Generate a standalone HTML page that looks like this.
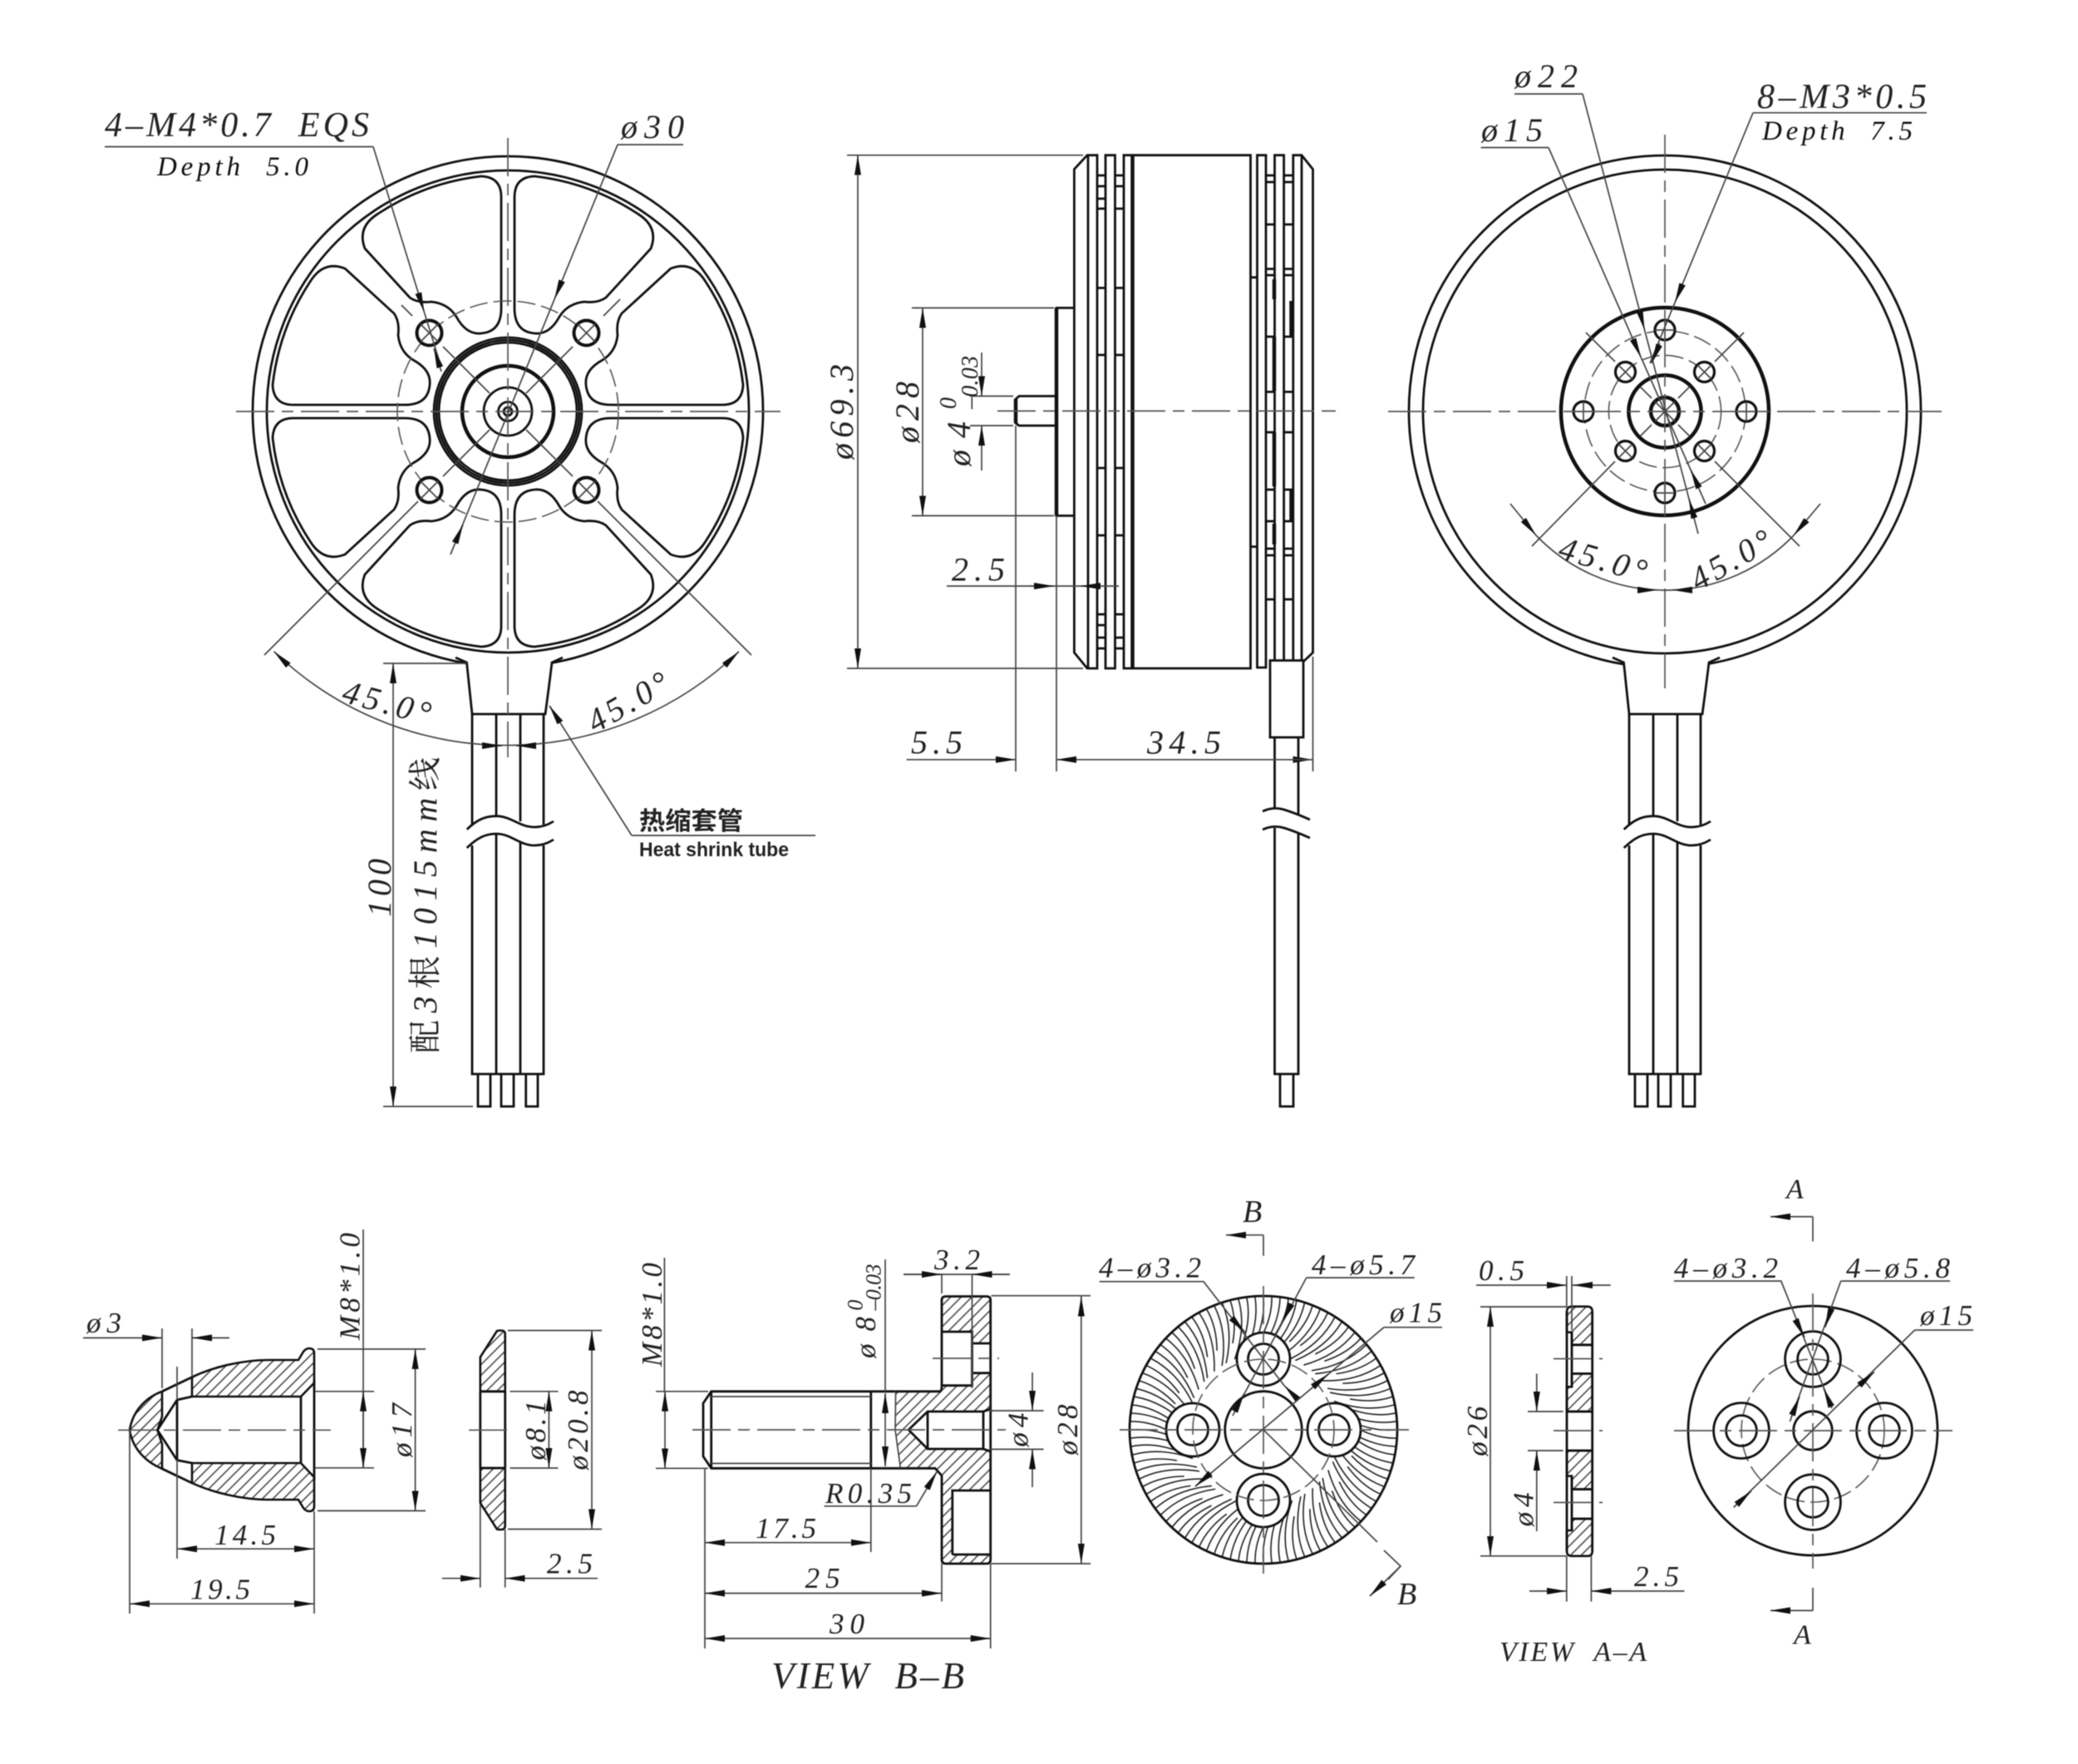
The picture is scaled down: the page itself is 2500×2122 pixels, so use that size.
<!DOCTYPE html>
<html><head><meta charset="utf-8"><title>Motor drawing</title>
<style>
html,body{margin:0;padding:0;background:#fff}
svg{display:block;filter:blur(0.5px)}
.m{fill:none;stroke:#111;stroke-width:2.8}
.k{fill:none;stroke:#111;stroke-width:4.5}
.w{fill:#fff;stroke:#111;stroke-width:2.8}
.d{fill:none;stroke:#444;stroke-width:1.7}
.c{fill:none;stroke:#555;stroke-width:1.7;stroke-dasharray:46 9 14 9}
.q{fill:none;stroke:#555;stroke-width:1.6;stroke-dasharray:22 7}
.e{marker-end:url(#a)}
.b{marker-start:url(#a);marker-end:url(#a)}
.h{fill:url(#h);stroke:#111;stroke-width:2.6}
text{font-family:"Liberation Serif","Noto Serif CJK SC",serif;font-style:italic;fill:#222;font-size:40px;white-space:pre}
.f{font-size:35px}
.n{font-family:"Liberation Sans","Noto Sans CJK SC",sans-serif;font-style:normal;font-weight:bold;fill:#222}
</style></head><body>
<svg xmlns="http://www.w3.org/2000/svg" width="2500" height="2122" viewBox="0 0 2500 2122">
<defs>
<marker id="a" markerWidth="26" markerHeight="10" refX="24" refY="5" orient="auto-start-reverse" markerUnits="userSpaceOnUse"><path d="M0 1 L24 5 L0 9 Z" fill="#111"/></marker>
<pattern id="h" width="9" height="9" patternUnits="userSpaceOnUse" patternTransform="rotate(45)"><path d="M4 0V9" stroke="#333" stroke-width="1.4"/></pattern>
<path id="win" d="M8 -124 V-258 Q8 -282 32 -283 A285 285 0 0 1 156 -238 Q182 -222 172 -196 L118 -137 Q108 -130 92 -132 Q72 -130 62 -114 Q50 -92 32 -94 Q8 -96 8 -124 Z" class="m"/>
<g id="wires">
<path class="w" d="M548 791 L561.5 797 Q565 830 568 859 H656 Q660 830 664 797 L677 791"/>
<path class="m" d="M568 859 V993 M597 859 V981 M626 859 V988 M654 859 V992 M568 1017 V1292 H654 V1017 M597 1003 V1292 M626 1012 V1292"/>
<path class="m" d="M575 1292 V1331 H590 V1292 M603 1292 V1331 H618 V1292 M632.7 1292 V1331 H647 V1292"/>
<path class="m" d="M561.7 997.7 C575 985 585 981.7 597 981.7 C615 981.7 625 995 643 995 Q655 995 666 988 M561.7 1020 C575 1007 585 1003 597 1003 C615 1003 625 1017 643 1017 Q655 1017 666 1010" stroke-width="2.2"/>
</g>
<g id="holeX"><circle r="15" fill="#fff" stroke="#111" stroke-width="4"/><path class="d" d="M-11 -11 L11 11 M-11 11 L11 -11"/></g>
<g id="h3"><circle r="12" fill="#fff" stroke="#111" stroke-width="3.2"/><path class="d" d="M-12 0 H12 M0 -12 V12"/></g>
<g id="s5">
<path id="sa" d="M0 -160 Q3 -125 -18 -90" fill="none" stroke="#222" stroke-width="1.6"/>
<path id="sb" d="M0 -160 Q2 -136 -10 -110" fill="none" stroke="#222" stroke-width="1.6" transform="rotate(3.6)"/>
<use href="#sa" transform="rotate(7.2)"/>
<use href="#sb" transform="rotate(7.2)"/>
<use href="#sa" transform="rotate(14.4)"/>
</g>
<g id="s25"><use href="#s5"/><use href="#s5" transform="rotate(18)"/><use href="#s5" transform="rotate(36)"/><use href="#s5" transform="rotate(54)"/><use href="#s5" transform="rotate(72)"/></g>
</defs>
<rect width="2500" height="2122" fill="#fff"/>

<!-- VIEW 1 -->
<g transform="translate(611 495)">
<circle class="m" r="307" stroke-width="3.4"/>
<circle class="m" r="290" stroke-width="3"/>
<use href="#win"/><use href="#win" transform="scale(-1 1)"/><use href="#win" transform="scale(1 -1)"/><use href="#win" transform="scale(-1 -1)"/>
<use href="#win" transform="matrix(0 -1 -1 0 0 0)"/><use href="#win" transform="matrix(0 1 -1 0 0 0)"/><use href="#win" transform="matrix(0 -1 1 0 0 0)"/><use href="#win" transform="matrix(0 1 1 0 0 0)"/>
<circle class="q" r="133"/>
<circle class="m" r="89"/><circle class="m" r="86"/><circle class="m" r="83"/>
<circle class="k" r="55" stroke-width="5"/>
<circle class="m" r="29" stroke-width="3.4"/>
<circle class="m" r="11.5"/><circle class="m" r="5" stroke-width="2"/>
<path class="d" d="M-78 -78 L-22 -22 M78 -78 L22 -22 M-78 78 L-22 22 M78 78 L22 22 M-115 -115 L-128 -128 M115 -115 L135 -135"/>
<use href="#holeX" transform="translate(-94.5 -94.5)"/><use href="#holeX" transform="translate(94.5 -94.5)"/><use href="#holeX" transform="translate(-94.5 94.5)"/><use href="#holeX" transform="translate(94.5 94.5)"/>
<path class="d" d="M-108 108 L-293 293 M108 108 L293 293"/>
</g>
<use href="#wires"/>
<path class="c" d="M284 495 H939"/>
<path class="c" d="M611 166 V911"/>
<path class="d b" d="M329.6 783.7 A403 403 0 0 0 889 783.7"/>
<path class="d e" d="M580 897 H604"/><path class="d e" d="M645 897 H621"/>
<path class="d" d="M126 176.5 H449"/>
<path class="d e" d="M449 176.5 L510.4 375.5"/><path class="d" d="M510.4 375.5 L527.7 431.6"/>
<path class="d e" d="M531 447 L522 419"/>
<path class="d" d="M743 174 H822"/><path class="d e" d="M743 174 L667 360"/><path class="d" d="M667 360 L542 667"/>
<path class="d e" d="M548 652 L557 631"/>
<text x="126" y="164" textLength="318" style="font-size:42px">4–M4*0.7  EQS</text>
<text x="189" y="211" textLength="182" style="font-size:33px;fill:#111">Depth  5.0</text>
<text x="747" y="166" textLength="76">ø30</text>
<text transform="translate(462 858) rotate(15)" text-anchor="middle" textLength="108">45.0°</text>
<text transform="translate(762 856) rotate(-30)" text-anchor="middle" textLength="106">45.0°</text>
<path class="d" d="M461 798 H561 M461 1331 H569"/>
<path class="d b" d="M473 798 V1331"/>
<text transform="translate(470 1103) rotate(-90)" textLength="70">100</text>
<text transform="translate(525 1267) rotate(-90)" textLength="356" style="font-size:40px"><tspan style="font-style:normal">配</tspan>3<tspan style="font-style:normal">根</tspan>1015mm<tspan style="font-style:normal">线</tspan></text>
<path class="d e" d="M760 1005 L661 849"/><path class="d" d="M760 1005 H981"/>
<text class="n" x="769" y="998" textLength="125" lengthAdjust="spacingAndGlyphs" style="font-size:30px">热缩套管</text>
<text class="n" x="769" y="1030" textLength="180" lengthAdjust="spacingAndGlyphs" style="font-size:24px">Heat shrink tube</text>

<!-- VIEW 2 side -->
<path class="m" d="M1308 186.7 L1292.4 203.6 V785 L1308 804 H1320 V186.7 Z M1309 186.7 V804"/>
<path class="m" d="M1330 186.7 H1341.5 V804 H1330 Z"/>
<path class="m" d="M1352 186.7 H1504.5 V804 H1352 Z"/>
<path class="k" d="M1362.5 186.7 V804" stroke-width="3.4"/>
<path class="m" d="M1512.5 186.7 H1523 V803 H1512.5 Z M1533.5 186.7 H1544.6 V795 H1533.5 Z"/>
<path class="m" d="M1555.8 186.7 H1566 L1579.5 203.6 V785 L1569 795 H1555.8 Z M1566 186.7 V795"/>
<path class="m" stroke-width="2" d="M1320 211H1330M1341.5 211H1352M1320 224H1330M1341.5 224H1352M1320 239H1330M1320 251H1330M1341.5 251H1352M1320 346.4H1330M1341.5 346.4H1352M1320 427H1330M1341.5 427H1352M1320 563H1330M1341.5 563H1352M1320 644H1330M1341.5 644H1352M1320 739H1330M1341.5 739H1352M1320 752H1330M1320 767H1330M1341.5 767H1352M1320 780H1330M1341.5 780H1352"/>
<path class="m" stroke-width="2" d="M1523 211H1533.5M1544.6 211H1555.8M1523 219H1533.5M1544.6 219H1555.8M1523 270H1533.5M1544.6 270H1555.8M1523 323.5H1533.5M1544.6 323.5H1555.8M1523 331H1533.5M1544.6 331H1555.8M1523 405H1533.5M1544.6 405H1555.8M1523 471.4H1533.5M1544.6 471.4H1555.8M1523 520H1533.5M1544.6 520H1555.8M1523 589H1533.5M1544.6 589H1555.8M1523 627H1533.5M1544.6 627H1555.8M1523 660H1533.5M1544.6 660H1555.8M1523 668H1533.5M1544.6 668H1555.8M1523 721H1533.5M1544.6 721H1555.8M1504.5 333.7H1512.5M1504.5 657.6H1512.5"/>
<path class="k" stroke-width="2.8" d="M1533 336V360M1533 405V470M1533 520V585M1533 630V655M1553.5 362V404M1553.5 590V626"/>
<path class="m" d="M1292.4 370.4 H1271 V620.4 H1292.4"/><path class="k" stroke-width="3.6" d="M1271 370.4 V620.4"/>
<path class="m" d="M1271 476.5 H1226 L1222 480 V509 L1226 512 H1271"/><path class="k" stroke-width="3" d="M1222 480 V509"/>
<rect class="w" x="1528" y="794.5" width="40" height="92.5"/>
<path class="m" d="M1533.5 887 V973 M1562 887 V980 M1533.5 996 V1292 H1562 V1003 M1540 1292 V1331 H1556 V1292"/>
<path class="m" stroke-width="2.2" d="M1519 976 Q1532 970 1545 974 T1576 986 M1519 998 Q1532 992 1545 996 T1576 1008"/>
<path class="c" d="M1200 494.4 H1607"/>
<path class="d" d="M1019 186.7 H1303 M1019 804 H1303 M1097 370.4 H1268 M1097 620.4 H1268 M1167 476.5 H1219 M1167 512 H1219 M1222 512 V928 M1271 620.4 V928 M1579.5 790 V928"/>
<path class="d b" d="M1032 186.7 V804"/><path class="d b" d="M1110 370.4 V620.4"/>
<path class="d e" d="M1181 424 V476.5"/><path class="d e" d="M1181 566 V512"/>
<path class="d" d="M1139 705 H1346"/>
<path class="d e" d="M1240 705 H1268"/><path class="d e" d="M1320 705 H1300"/>
<path class="d e" d="M1090.6 913.8 H1222"/>
<path class="d b" d="M1271 913.8 H1579.5"/>
<path class="d" d="M1551 913.8 H1579"/>
<text transform="translate(1026 553) rotate(-90)" textLength="115">ø69.3</text>
<text transform="translate(1105 533) rotate(-90)" textLength="74">ø28</text>
<text transform="translate(1167 561) rotate(-90)" textLength="54">ø4</text>
<text transform="translate(1150 492) rotate(-90)" style="font-size:28px">0</text>
<text transform="translate(1176 492) rotate(-90)" textLength="64" style="font-size:28px">–0.03</text>
<text x="1145" y="698.5" textLength="64">2.5</text>
<text x="1096" y="906.6" textLength="62">5.5</text>
<text x="1380" y="906.6" textLength="89">34.5</text>

<!-- VIEW 3 -->
<g transform="translate(2003 495)">
<circle class="m" r="308" stroke-width="3.2"/>
<circle class="m" r="291"/>
<circle class="k" r="125" stroke-width="4.5"/>
<circle class="q" r="97"/>
<circle class="q" r="67.6"/>
<circle class="k" r="43.6" stroke-width="5.5"/>
<circle class="k" r="17" stroke-width="3.6"/>
<path class="d" d="M-12 -12 L12 12 M-12 12 L12 -12 M-30 -30 L-16 -16 M30 -30 L16 -16 M-30 30 L-16 16 M30 30 L16 16"/>
<use href="#h3" transform="translate(-98 0)"/><use href="#h3" transform="translate(98 0)"/><use href="#h3" transform="translate(0 -98)"/><use href="#h3" transform="translate(0 98)"/>
<g transform="translate(-47.5 -47.5) rotate(45)"><use href="#h3"/></g><g transform="translate(47.5 -47.5) rotate(45)"><use href="#h3"/></g><g transform="translate(-47.5 47.5) rotate(45)"><use href="#h3"/></g><g transform="translate(47.5 47.5) rotate(45)"><use href="#h3"/></g>
<path class="d" d="M-60 60 L-160 162 M60 60 L162 162 M-95 -95 L-60 -60 M95 -95 L60 -60"/>
</g>
<use href="#wires" transform="translate(1392 0)"/>
<path class="c" d="M1670 495 H2336"/>
<path class="c" d="M2003 162 V828"/>
<path class="d" d="M1848 644 A215 215 0 0 0 2158 644"/>
<path class="d e" d="M1817 606 L1848 644"/><path class="d e" d="M2190 606 L2158 644"/>
<path class="d e" d="M1970 709.7 H1994"/><path class="d e" d="M2036 709.7 H2012"/>
<path class="d" d="M1822 113 H1904"/><path class="d e" d="M1904 113 L1978.6 397"/><path class="d" d="M1978.6 397 L2043 642"/>
<path class="d e" d="M2038 622 L2032 600"/>
<path class="d" d="M1781.6 177.5 H1863"/><path class="d e" d="M1863 177.5 L1974.3 430"/><path class="d" d="M1974.3 430 L2052 606"/>
<path class="d e" d="M2044 587 L2034 565"/>
<path class="d" d="M2109 135.7 H2318"/><path class="d e" d="M2109 135.7 L2015 364"/><path class="d" d="M2015 364 L1985 437"/>
<path class="d e" d="M1997 413 L1987 437"/>
<text x="1822" y="105" textLength="76">ø22</text>
<text x="1782" y="170" textLength="74">ø15</text>
<text x="2114" y="130" textLength="204" style="font-size:42px">8–M3*0.5</text>
<text x="2120" y="168" textLength="181" style="font-size:33px;fill:#111">Depth  7.5</text>
<text transform="translate(1925 686) rotate(16)" text-anchor="middle" textLength="108">45.0°</text>
<text transform="translate(2089 685) rotate(-30)" text-anchor="middle" textLength="106">45.0°</text>

<!-- NUT -->
<path class="h" d="M231 1656.6 C255 1645 290 1636 323 1636 H359 L365 1626 Q368 1622 372 1622 Q378 1622 378 1628 V1663.5 L362 1680 H231 Z"/>
<path class="h" d="M231 1784 C255 1795 290 1804 323 1804 H359 L365 1814 Q368 1818 372 1818 Q378 1818 378 1812 V1777 L362 1760 H231 Z"/>
<path class="h" d="M195 1673.8 C178 1680 160 1695 156 1720.3 C160 1745 178 1760 195 1766.8 V1737 L189.4 1720.3 L195 1704 Z"/>
<path class="m" d="M195 1673.8 L231 1656.6 M195 1766.8 L231 1784 M213 1684 L189.4 1720.3 L213 1756.5 M213 1684 L231 1680 M213 1756.5 L231 1760 M213 1684 V1756.5 M362 1680 V1760 M378 1660 V1780"/>
<path class="c" d="M142 1720.3 H398"/>
<path class="d" d="M195 1598 V1670 M231 1598 V1656 M213 1644 V1684 M213 1756 V1875 M156 1722 V1941 M378 1818 V1941"/>
<path class="d e" d="M100 1609.4 H195"/><path class="d e" d="M276 1609.4 H231"/>
<path class="d" d="M437 1479 V1765 M379 1673.8 H450 M379 1765.8 H450"/>
<path class="d b" d="M437 1673.8 V1765.8"/>
<path class="d" d="M382 1622.9 H512 M382 1817.4 H512"/>
<path class="d b" d="M499.6 1622.9 V1817.4"/>
<path class="d b" d="M213 1863.2 H378"/><path class="d b" d="M156 1929.3 H378"/>
<text class="f" x="104" y="1603" textLength="42">ø3</text>
<text class="f" transform="translate(432.7 1612) rotate(-90)" textLength="129">M8*1.0</text>
<text class="f" transform="translate(495 1753) rotate(-90)" textLength="65">ø17</text>
<text class="f" x="258" y="1858" textLength="74">14.5</text>
<text class="f" x="229" y="1923.5" textLength="72">19.5</text>

<!-- WASHER -->
<path class="h" d="M597.9 1601 Q600 1600.5 603 1600.5 Q607.7 1600.5 607.7 1605 V1673.8 H577.8 V1632.5 Z"/>
<path class="h" d="M597.9 1839.6 Q600 1840 603 1840 Q607.7 1840 607.7 1835 V1766 H577.8 V1808 Z"/>
<path class="m" d="M577.8 1673.8 V1766 M607.7 1673.8 V1766"/>
<path class="m" d="M577.8 1673.8 H607.7 M577.8 1766 H607.7" stroke-width="3"/>
<path class="c" d="M564 1720.3 H618"/>
<path class="d" d="M613.5 1673.8 H671.5 M613.5 1766 H671.5 M611 1600.5 H724 M611 1839.5 H724 M577.8 1810 V1909.7 M607.7 1840 V1909.7"/>
<path class="d b" d="M660.4 1673.8 V1766"/><path class="d b" d="M712 1600.5 V1839.5"/>
<path class="d e" d="M531.8 1898.7 H577.8"/><path class="d e" d="M719 1898.7 H607.7"/>
<text class="f" transform="translate(656 1756.5) rotate(-90)" textLength="72">ø8.1</text>
<text class="f" transform="translate(707 1768.5) rotate(-90)" textLength="96">ø20.8</text>
<text class="f" x="658" y="1892.5" textLength="55">2.5</text>

<!-- SCREW B-B -->
<path fill="url(#h)" fill-rule="evenodd" stroke="none" d="M1077.6 1673.8 H1133 V1559.5 H1191.7 V1881 H1133 V1775 L1125 1766.3 H1083.4 L1077 1720 Z M1133 1602 H1169.5 V1616 H1191.7 V1651.7 H1171 V1666.7 H1133 Z M1145.8 1793 H1190.5 V1870 H1145.8 Z M1093 1720 L1116 1698 H1183 L1191.7 1695 V1746 L1183 1743 H1116 Z"/>
<path class="m" d="M846 1688 L855.7 1673.8 H1131 Q1133 1673 1133 1666 V1564 Q1133 1559.5 1138 1559.5 H1187 Q1191.7 1559.5 1191.7 1564 V1876 Q1191.7 1881 1187 1881 H1138 Q1133 1881 1133 1876 V1775 L1125 1766.3 H855.7 L846 1752 Z"/>
<path class="m" d="M855.7 1673.8 V1766.3 M1047.8 1673.8 V1766.3"/>
<path class="d" d="M855.7 1680 H1047.8 M855.7 1760.4 H1047.8"/>
<path class="d" d="M1077.6 1673.8 L1077 1720 L1083.4 1766.3"/>
<path class="m" d="M1133 1602 H1169.5 V1666.7 H1133 M1171 1616 H1191.7 M1171 1651.7 H1191.7 M1145.8 1870 V1793 H1190.5 M1145.8 1870 H1190.5"/>
<path class="m" d="M1093 1720 L1116 1698 H1183 L1191.7 1695 M1093 1720 L1116 1743 H1183 L1191.7 1746 M1116 1698 V1743 M1183 1698 V1743"/>
<path class="c" d="M833 1720 H1210"/><path class="c" d="M1122 1634 H1202"/>
<path class="d" d="M799.4 1513 V1674 M789 1673.8 H852 M789 1766.3 H852"/>
<path class="d b" d="M800 1673.8 V1766.3"/>
<path class="d" d="M1065 1515 V1674"/><path class="d b" d="M1065 1676 V1764"/>
<path class="d" d="M1087 1533 H1215 M1133 1533 V1556 M1169.5 1533 V1670"/>
<path class="d e" d="M1087 1533 H1133"/><path class="d e" d="M1215 1533 H1169.5"/>
<path class="d" d="M1192.5 1558.7 H1312 M1192.5 1881 H1312"/><path class="d b" d="M1300.8 1559.5 V1881"/>
<path class="d" d="M1190 1697 H1255.6 M1190 1743.4 H1255.6"/>
<path class="d e" d="M1242 1651 V1697"/><path class="d e" d="M1242 1789 V1743.4"/>
<path class="d" d="M991.5 1811.8 H1102.5"/><path class="d e" d="M1102.5 1811.8 L1127.4 1770"/>
<path class="d" d="M848 1766 V1983 M1047.8 1766 V1867 M1133 1881 V1926.5 M1191.7 1881 V1983"/>
<path class="d b" d="M848 1855.7 H1047.8"/><path class="d b" d="M848 1916.6 H1133"/><path class="d b" d="M848 1971 H1191.7"/>
<text class="f" transform="translate(796 1644) rotate(-90)" textLength="125">M8*1.0</text>
<text class="f" transform="translate(1052.8 1634) rotate(-90)" textLength="50">ø8</text>
<text transform="translate(1037.5 1576.5) rotate(-90)" style="font-size:26px">0</text>
<text transform="translate(1059.7 1576.5) rotate(-90)" textLength="56" style="font-size:26px">–0.03</text>
<text class="f" x="1124" y="1527" textLength="55">3.2</text>
<text class="f" transform="translate(1295.8 1750.5) rotate(-90)" textLength="61">ø28</text>
<text class="f" transform="translate(1236.5 1740.6) rotate(-90)" textLength="41">ø4</text>
<text class="f" x="993" y="1807.8" textLength="104">R0.35</text>
<text class="f" x="909" y="1850" textLength="73">17.5</text>
<text class="f" x="968.6" y="1910" textLength="42">25</text>
<text class="f" x="998" y="1965" textLength="42">30</text>
<text x="928" y="2031" textLength="232" style="font-size:45px">VIEW  B–B</text>

<!-- DISC B -->
<g transform="translate(1520 1720)">
<use href="#s25"/><use href="#s25" transform="rotate(90)"/><use href="#s25" transform="rotate(180)"/><use href="#s25" transform="rotate(270)"/>
<circle class="m" r="161" stroke-width="3.2"/>
<circle class="w" r="46.3"/>
<circle class="w" cx="-85" r="32"/><circle class="w" cx="-85" r="18.5"/>
<circle class="w" cx="85" r="32"/><circle class="w" cx="85" r="18.5"/>
<circle class="w" cy="-85" r="32"/><circle class="w" cy="-85" r="18.5"/>
<circle class="w" cy="85" r="32"/><circle class="w" cy="85" r="18.5"/>
<circle class="q" r="85" stroke-width="1.4"/>
<path class="d" d="M0 0 L137 135"/>
</g>
<path class="c" d="M1347 1720 H1695"/><path class="c" d="M1520 1547 V1893"/>
<path class="d" d="M1322.7 1541.7 H1448 L1545 1666.7"/>
<path class="d e" d="M1486 1590 L1498 1603"/><path class="d e" d="M1560 1682 L1545 1666.7"/>
<path class="d" d="M1571.7 1537 H1701.7 M1571.7 1537 L1483 1703"/>
<path class="d e" d="M1553 1570 L1543 1590"/><path class="d e" d="M1487 1695 L1496.7 1676.7"/>
<path class="d" d="M1665 1596.7 H1735 M1665 1596.7 L1438 1788"/>
<path class="d e" d="M1580 1668 L1598 1653"/>
<path class="d e" d="M1458 1771 L1438 1788"/>
<path class="d" d="M1665 1865 L1685 1884 L1670 1900"/><path class="d e" d="M1685 1884 L1648 1920"/>
<path class="d" d="M1520 1510.7 V1485.7"/><path class="d e" d="M1520 1485.7 H1475"/>
<text x="1495" y="1470" style="font-size:38px">B</text>
<text x="1681" y="1930" style="font-size:38px">B</text>
<text class="f" x="1322" y="1536.7" textLength="123">4–ø3.2</text>
<text class="f" x="1578" y="1533" textLength="124">4–ø5.7</text>
<text class="f" x="1672" y="1590.7" textLength="63">ø15</text>

<!-- SIDE A-A -->
<path class="h" d="M1885 1578 Q1885 1571.7 1891 1571.7 H1910 Q1915.7 1571.7 1915.7 1578 V1617.8 H1891 V1602.7 H1885 Z"/>
<path class="h" d="M1885 1668.3 H1891 V1652.4 H1915.7 V1698 H1885 Z"/>
<path class="h" d="M1885 1745 H1915.7 V1791.5 H1891 V1775.6 H1885 Z"/>
<path class="h" d="M1885 1841 H1891 V1827 H1915.7 V1866 Q1915.7 1871.8 1910 1871.8 H1891 Q1885 1871.8 1885 1866 Z"/>
<path class="m" d="M1885 1578 V1866 M1915.7 1578 V1866 M1885 1698 H1915.7 M1885 1745 H1915.7 M1891 1617.8 H1915.7 M1891 1652.4 H1915.7 M1891 1791.5 H1915.7 M1891 1827 H1915.7 M1891 1602.7 V1668.3 M1891 1775.6 V1841"/>
<path class="c" d="M1869 1634.5 H1928 M1869 1721 H1928 M1869 1807.4 H1928"/>
<path class="d" d="M1884.8 1535 V1572 M1891 1535 V1600 M1781 1572 H1884.8 M1781 1871.8 H1884.8 M1838 1698 H1880.6 M1838 1745 H1880.6 M1884.8 1872 V1926.6 M1914.4 1872 V1926.6"/>
<path class="d e" d="M1776 1546 H1884.8"/><path class="d e" d="M1937.7 1546 H1892"/>
<path class="d b" d="M1793 1572 V1871.8"/>
<path class="d e" d="M1848.8 1652.4 V1698"/><path class="d e" d="M1848.8 1842 V1745"/>
<path class="d e" d="M1840 1914 H1884.8"/><path class="d e" d="M2026.5 1914 H1914.4"/>
<text class="f" x="1779" y="1540" textLength="55">0.5</text>
<text class="f" transform="translate(1788.8 1751.7) rotate(-90)" textLength="60">ø26</text>
<text class="f" transform="translate(1844.6 1836.4) rotate(-90)" textLength="41">ø4</text>
<text class="f" x="1966" y="1908" textLength="54">2.5</text>
<text x="1804" y="1998" textLength="177" style="font-size:34px">VIEW  A–A</text>

<!-- DISC A -->
<g transform="translate(2181 1721)">
<circle class="m" r="150" stroke-width="3.2"/>
<circle class="q" r="86"/>
<circle class="m" r="23.3"/>
<circle class="m" cx="-86" r="33.4"/><circle class="m" cx="-86" r="18.4"/>
<circle class="m" cx="86" r="33.4"/><circle class="m" cx="86" r="18.4"/>
<circle class="m" cy="-86" r="33.4"/><circle class="m" cy="-86" r="18.4"/>
<circle class="m" cy="86" r="33.4"/><circle class="m" cy="86" r="18.4"/>
</g>
<path class="c" d="M2014 1721 H2349"/><path class="c" d="M2181 1556 V1887"/>
<path class="d" d="M2303.6 1600 H2374 M2303.6 1600 L2085.7 1813.4"/>
<path class="d e" d="M2235 1668 L2255 1650.4"/><path class="d e" d="M2087 1812 L2107 1793.5"/>
<path class="d" d="M2014 1541 H2142.8 L2204 1694"/>
<path class="d e" d="M2161 1589 L2171 1608.7"/><path class="d e" d="M2204 1694 L2194 1670"/>
<path class="d" d="M2214.7 1541 H2346 M2214.7 1541 L2153.4 1710"/>
<path class="d e" d="M2203 1575 L2195.7 1596.7"/><path class="d e" d="M2155 1705 L2165 1680"/>
<path class="d" d="M2181 1493.4 V1463.6"/><path class="d e" d="M2181 1463.6 H2130"/>
<path class="d" d="M2181 1910 V1937.4"/><path class="d e" d="M2181 1937.4 H2130"/>
<text x="2149" y="1441.7" style="font-size:34px">A</text>
<text x="2158" y="1977.5" style="font-size:34px">A</text>
<text class="f" x="2014" y="1537" textLength="125">4–ø3.2</text>
<text class="f" x="2221" y="1537" textLength="125">4–ø5.8</text>
<text class="f" x="2310" y="1594" textLength="63">ø15</text>
</svg>
</body></html>
